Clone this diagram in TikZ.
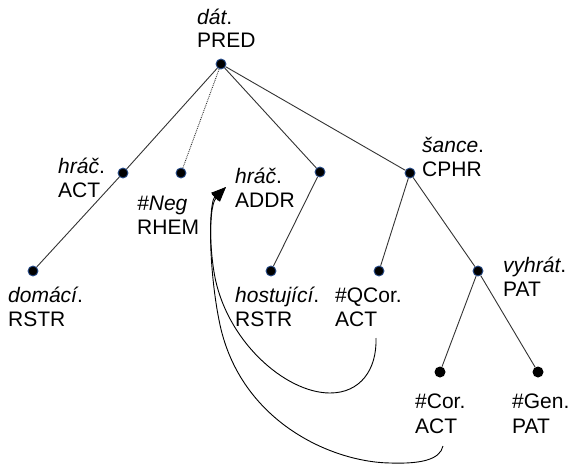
\documentclass[tikz,border=0pt]{standalone}
\usepackage{fontspec}
\setmainfont{Liberation Sans}
\usetikzlibrary{arrows.meta}
\definecolor{dotrim}{HTML}{2B4F8C}
\begin{document}
\begin{tikzpicture}[x=1pt,y=-1pt,
  tnode/.style={circle,fill=black,draw=dotrim,line width=0.9pt,minimum size=10pt,inner sep=0pt},
  gnode/.style={circle,fill=black,minimum size=11pt,inner sep=0pt},
  lab/.style={anchor=base west,inner sep=0pt,font=\fontsize{21}{25}\selectfont},
  edge/.style={draw=black!80,line width=0.9pt},
  coref/.style={draw=black,line width=0.9pt,-{Triangle[length=15pt,width=10.5pt]}}]
\useasboundingbox (0,0) rectangle (574,464);

% tree nodes
\node[tnode] (pred) at (221,64) {};
\node[tnode] (act)  at (123,173) {};
\node[tnode] (neg)  at (181,173) {};
\node[tnode] (addr) at (320,172) {};
\node[tnode] (cphr) at (410,173) {};
\node[tnode] (dom)  at (33,271) {};
\node[tnode] (host) at (271,271) {};
\node[tnode] (qcor) at (379,271) {};
\node[tnode] (vyh)  at (478,271) {};
\node[gnode] (cor)  at (440,372) {};
\node[gnode] (gen)  at (538,372) {};

% node labels
\node[lab] (predl) at (197,24) {\textit{dát}.};
\node[lab] (predf) at (197,47) {PRED};
\node[lab] (actl)  at (58,173) {\textit{hráč}.};
\node[lab] (actf)  at (58,197) {ACT};
\node[lab] (negl)  at (137,210) {\textit{\#Neg}};
\node[lab] (negf)  at (137,234) {RHEM};
\node[lab] (addrl) at (235,183) {\textit{hráč}.};
\node[lab] (addrf) at (235,207) {ADDR};
\node[lab] (cphrl) at (422,152) {\textit{šance}.};
\node[lab] (cphrf) at (422,176) {CPHR};
\node[lab] (doml)  at (8,302) {\textit{domácí}.};
\node[lab] (domf)  at (8,326) {RSTR};
\node[lab] (hostl) at (235,302) {\textit{hostující}.};
\node[lab] (hostf) at (235,326) {RSTR};
\node[lab] (qcorl) at (335,302) {\#QCor.};
\node[lab] (qcorf) at (335,326) {ACT};
\node[lab] (vyhl)  at (503,272) {\textit{vyhrát}.};
\node[lab] (vyhf)  at (503,296) {PAT};
\node[lab] (corl)  at (415,408) {\#Cor.};
\node[lab] (corf)  at (415,433) {ACT};
\node[lab] (genl)  at (512,408) {\#Gen.};
\node[lab] (genf)  at (512,433) {PAT};

% tree edges
\draw[edge] (pred) -- (act);
\draw[edge,densely dotted] (pred) -- (neg);
\draw[edge] (pred) -- (addr);
\draw[edge] (pred) -- (cphr);
\draw[edge] (act) -- (dom);
\draw[edge] (addr) -- (host);
\draw[edge] (cphr) -- (qcor);
\draw[edge] (cphr) -- (vyh);
\draw[edge] (vyh) -- (cor);
\draw[edge] (vyh) -- (gen);

% coreference arrows
\coordinate (qstart) at (376,338);
\coordinate (cstart) at (443,446);
\coordinate (target) at (226,187);
\draw[coref] (qstart) .. controls (377,370) and (360,393) .. (330,393)
  .. controls (285,393) and (225,340) .. (214,272)
  .. controls (208,235) and (211,200) .. (target);
\draw[coref] (cstart) .. controls (440,460) and (420,464) .. (390,463)
  .. controls (330,462) and (238,420) .. (219,320)
  .. controls (210,275) and (207,208) .. (target);
\end{tikzpicture}
\end{document}
